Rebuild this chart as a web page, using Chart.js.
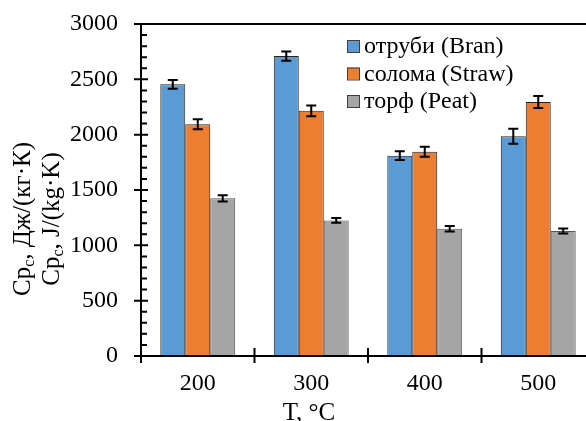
<!DOCTYPE html>
<html>
<head>
<meta charset="utf-8">
<script src="https://cdn.jsdelivr.net/npm/chart.js@4.4.0/dist/chart.umd.min.js"></script>
<style>
  html, body { margin: 0; padding: 0; background: #fff; overflow: hidden; }
  #wrap { width: 600px; height: 421px; }
</style>
</head>
<body>
<div id="wrap"><canvas id="viz"></canvas></div>
<script>
// data
const temps = ['200', '300', '400', '500'];
const seriesNames = ['отруби (Bran)', 'солома (Straw)', 'торф (Peat)'];
const branValues = [2455, 2710, 1810, 1985];
const strawValues = [2095, 2215, 1845, 2295];
const peatValues = [1425, 1225, 1150, 1130];
const branErr = [40, 42, 40, 68];
const strawErr = [45, 48, 45, 55];
const peatErr = [28, 22, 25, 22];
const yTicks = [0, 500, 1000, 1500, 2000, 2500, 3000];

const colors = ['#5b9bd5', '#ed7d31', '#a5a5a5'];
const FONT = '"Liberation Serif", "Times New Roman", serif';

// error bars, drawn from the y scale
const errorBars = {
  id: 'errorBars',
  afterDatasetsDraw(chart) {
    const ctx = chart.ctx;
    const y = chart.scales.y;
    const errs = [branErr, strawErr, peatErr];
    ctx.save();
    ctx.strokeStyle = '#000';
    ctx.lineWidth = 2;
    chart.data.datasets.forEach((ds, d) => {
      const meta = chart.getDatasetMeta(d);
      meta.data.forEach((bar, i) => {
        const v = ds.data[i];
        const top = y.getPixelForValue(v + errs[d][i]);
        const bot = y.getPixelForValue(v - errs[d][i]);
        const x = bar.x;
        ctx.beginPath();
        ctx.moveTo(x, top); ctx.lineTo(x, bot);
        ctx.moveTo(x - 5, top); ctx.lineTo(x + 5, top);
        ctx.moveTo(x - 5, bot); ctx.lineTo(x + 5, bot);
        ctx.stroke();
      });
    });
    ctx.restore();
  }
};

// axes, ticks, titles and legend
const decorations = {
  id: 'decorations',
  afterDraw(chart) {
    const ctx = chart.ctx;
    const area = chart.chartArea;
    const xs = chart.scales.x;
    const ys = chart.scales.y;
    const step = xs.getPixelForValue(1) - xs.getPixelForValue(0);
    ctx.save();
    ctx.strokeStyle = '#000';
    ctx.lineWidth = 2;
    ctx.beginPath();
    // axis lines and top border
    ctx.moveTo(area.left, area.top); ctx.lineTo(area.left, area.bottom);
    ctx.moveTo(area.left - 7, area.bottom); ctx.lineTo(area.right, area.bottom);
    ctx.moveTo(area.left - 7, area.top); ctx.lineTo(area.right, area.top);
    // y ticks
    for (let v = 0; v <= 3000; v += 100) {
      const py = ys.getPixelForValue(v);
      if (v % 500 === 0) {
        ctx.moveTo(area.left - 7, py); ctx.lineTo(area.left + 7, py);
      } else {
        ctx.moveTo(area.left, py); ctx.lineTo(area.left + 6, py);
      }
    }
    // x ticks at category boundaries
    for (let i = 0; i <= temps.length; i++) {
      const px = xs.getPixelForValue(0) - step / 2 + i * step;
      ctx.moveTo(px, area.bottom - 8); ctx.lineTo(px, area.bottom + 7);
    }
    ctx.stroke();

    ctx.fillStyle = '#000';
    // x title
    ctx.font = '25px ' + FONT;
    ctx.textAlign = 'center';
    ctx.textBaseline = 'alphabetic';
    ctx.fillText('T, °C', 309, 420);

    // y title, two lines with subscript c
    const drawTitle = (rest, cx) => {
      const big = '25px ' + FONT, small = '16px ' + FONT;
      ctx.font = big;
      const w1 = ctx.measureText('Cp').width;
      const w3 = ctx.measureText(rest).width;
      ctx.font = small;
      const w2 = ctx.measureText('c').width;
      const total = w1 + w2 + w3;
      ctx.save();
      ctx.translate(cx, 219);
      ctx.rotate(-Math.PI / 2);
      ctx.textAlign = 'left';
      ctx.textBaseline = 'middle';
      let x0 = -total / 2;
      ctx.font = big;
      ctx.fillText('Cp', x0, 0);
      ctx.font = small;
      ctx.fillText('c', x0 + w1, 7);
      ctx.font = big;
      ctx.fillText(rest, x0 + w1 + w2, 0);
      ctx.restore();
    };
    drawTitle(', Дж/(кг·К)', 23);
    drawTitle(', J/(kg·K)', 52);

    // legend
    ctx.font = '24px ' + FONT;
    ctx.textAlign = 'left';
    ctx.textBaseline = 'middle';
    ctx.lineWidth = 1;
    chart.data.datasets.forEach((ds, d) => {
      const cy = 46 + d * 27.5;
      ctx.fillStyle = ds.backgroundColor;
      ctx.fillRect(347, cy - 6, 12, 12);
      ctx.strokeStyle = '#404040';
      ctx.strokeRect(347.5, cy - 5.5, 12, 12);
      ctx.fillStyle = '#000';
      ctx.fillText(ds.label, 364, cy + 1);
    });
    ctx.restore();
  }
};

const datasets = [branValues, strawValues, peatValues].map((vals, d) => ({
  label: seriesNames[d],
  data: vals,
  backgroundColor: colors[d],
  borderColor: d === 2 ? '#555' : '#222',
  borderWidth: 1,
  barPercentage: 1,
  categoryPercentage: 0.66
}));

const chart = new Chart(document.getElementById('viz'), {
  type: 'bar',
  data: { labels: temps, datasets: datasets },
  options: {
    responsive: true,
    maintainAspectRatio: false,
    animation: false,
    layout: { padding: { top: 24, right: 5, left: 0, bottom: 0 } },
    plugins: { legend: { display: false }, tooltip: { enabled: false } },
    scales: {
      x: {
        grid: { display: false, drawTicks: false },
        border: { display: false },
        ticks: { color: '#000', font: { family: FONT, size: 24 }, padding: 13 },
        afterFit: (scale) => {
          scale.height = 65;
          scale.paddingLeft = 0;
          scale.paddingRight = 0;
        }
      },
      y: {
        min: 0,
        max: 3000,
        afterBuildTicks: (scale) => { scale.ticks = yTicks.map(v => ({ value: v })); },
        grid: { display: false, drawTicks: false },
        border: { display: false },
        ticks: {
          color: '#000',
          font: { family: FONT, size: 24 },
          padding: 23,
          callback: (v) => String(v)
        },
        afterFit: (scale) => {
          scale.width = 141;
          scale.paddingTop = 0;
          scale.paddingBottom = 0;
        }
      }
    }
  },
  plugins: [errorBars, decorations]
});
</script>
</body>
</html>
